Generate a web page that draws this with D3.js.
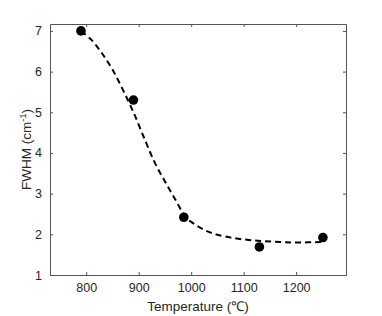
<!DOCTYPE html>
<html>
<head>
<meta charset="utf-8">
<script src="https://cdn.jsdelivr.net/npm/d3@7"></script>
<style>
  body { margin: 0; background: #fff; }
  text { font-family: "Liberation Sans", Arial, sans-serif; fill: #262626; }
</style>
</head>
<body>
<script>
// measured points
var temps = [790, 890, 986, 1130, 1251];
var fwhm = [7.0, 5.3, 2.42, 1.69, 1.92];

// dashed fit curve
var fitT = [790, 810, 830, 850, 870, 890, 910, 930, 950, 970, 990, 1010, 1030, 1050, 1080, 1110, 1140, 1170, 1200, 1250];
var fitW = [7.0, 6.78, 6.45, 6.05, 5.55, 5.0, 4.38, 3.78, 3.3, 2.85, 2.42, 2.22, 2.08, 1.99, 1.91, 1.86, 1.83, 1.81, 1.80, 1.81];

var xTicks = [800, 900, 1000, 1100, 1200];
var yTicks = [1, 2, 3, 4, 5, 6, 7];

var W = 382, H = 316;
var boxL = 50, boxT = 24, boxR = 346, boxB = 275;

var svg = d3.select("body").append("svg")
  .attr("width", W)
  .attr("height", H)

var x = d3.scaleLinear().domain([731, 1295]).range([boxL, boxR]);
var y = d3.scaleLinear().domain([1, 7.17]).range([boxB, boxT]);

// box with inward ticks on all four sides
function axis(gen, tx, ty, ticks, showLabels) {
  var g = svg.append("g")
    .attr("transform", "translate(" + tx + "," + ty + ")")
    .call(gen.tickValues(ticks).tickSizeInner(-3).tickSizeOuter(0).tickPadding(8)
      .tickFormat(showLabels ? d3.format("d") : ""));
  g.select(".domain").attr("stroke", "#555").attr("stroke-width", 1);
  g.selectAll(".tick line").attr("stroke", "#555");
  g.selectAll(".tick text").style("font-size", "12.5px").attr("fill", "#262626");
  return g;
}

axis(d3.axisBottom(x), 0, boxB, xTicks, true);
axis(d3.axisTop(x), 0, boxT, xTicks, false);
axis(d3.axisLeft(y), boxL, 0, yTicks, true);
axis(d3.axisRight(y), boxR, 0, yTicks, false);

var fitData = fitT.map(function (t, i) { return [t, fitW[i]]; });

svg.append("path")
  .datum(fitData)
  .attr("fill", "none")
  .attr("stroke", "#000")
  .attr("stroke-width", 2)
  .attr("stroke-dasharray", "6,4")
  .attr("d", d3.line()
    .x(function (d) { return x(d[0]); })
    .y(function (d) { return y(d[1]); })
    .curve(d3.curveCatmullRom));

svg.selectAll("circle.pt")
  .data(temps)
  .enter()
  .append("circle")
  .attr("class", "pt")
  .attr("cx", function (d) { return x(d); })
  .attr("cy", function (d, i) { return y(fwhm[i]); })
  .attr("r", 4.8)
  .attr("fill", "#000")

// axis titles
svg.append("text")
  .attr("x", (boxL + boxR) / 2)
  .attr("y", 311)
  .attr("text-anchor", "middle")
  .style("font-size", "13.5px")
  .text("Temperature (\u2103)");

var yl = svg.append("text")
  .attr("transform", "translate(31," + ((boxT + boxB) / 2) + ") rotate(-90)")
  .attr("text-anchor", "middle")
  .style("font-size", "13.5px");
yl.append("tspan").text("FWHM (cm");
yl.append("tspan").attr("dy", -5).style("font-size", "9.5px").text("-1");
yl.append("tspan").attr("dy", 5).text(")");
</script>
</body>
</html>
